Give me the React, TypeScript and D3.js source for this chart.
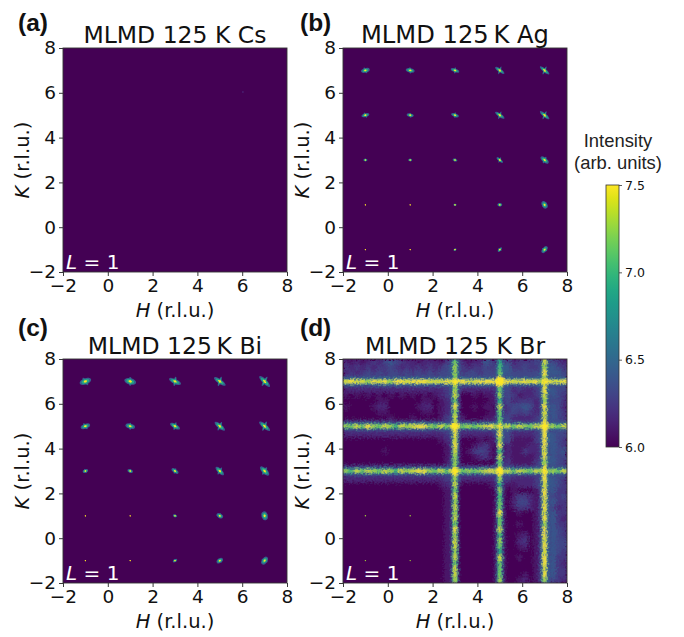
import React, { useEffect, useRef } from 'react';
import * as d3 from 'd3';

const axisTicks = [-2, 0, 2, 4, 6, 8];
const peakH = [-1, 1, 3, 5, 7];
const peakK = [7, 5, 3, 1, -1];
const barTicks = [6, 6.5, 7, 7.5];

// peak half sizes in r.l.u., rows follow peakK, columns follow peakH
const agLong = [
  [0.2, 0.2, 0.2, 0.25, 0.27],
  [0.18, 0.16, 0.18, 0.25, 0.27],
  [0.09, 0.09, 0.11, 0.18, 0.22],
  [0.03, 0.03, 0.07, 0.11, 0.18],
  [0.035, 0.035, 0.07, 0.13, 0.18],
];
const agShort = [
  [0.1, 0.1, 0.08, 0.08, 0.08],
  [0.08, 0.08, 0.08, 0.08, 0.08],
  [0.06, 0.06, 0.06, 0.06, 0.1],
  [0.03, 0.03, 0.05, 0.08, 0.12],
  [0.03, 0.03, 0.05, 0.06, 0.1],
];
const agAngle = [
  [-15, 10, 20, 35, 40],
  [-15, 10, 20, 35, 40],
  [0, 0, 20, 40, 40],
  [0, 0, 0, 0, 60],
  [0, 0, -30, -50, -50],
];
const biLong = [
  [0.27, 0.27, 0.29, 0.31, 0.33],
  [0.22, 0.22, 0.25, 0.29, 0.31],
  [0.13, 0.13, 0.18, 0.25, 0.27],
  [0.03, 0.03, 0.1, 0.16, 0.2],
  [0.03, 0.03, 0.11, 0.16, 0.2],
];
const biShort = [
  [0.14, 0.14, 0.11, 0.1, 0.1],
  [0.11, 0.11, 0.1, 0.1, 0.1],
  [0.08, 0.08, 0.08, 0.1, 0.12],
  [0.03, 0.03, 0.06, 0.1, 0.14],
  [0.03, 0.03, 0.06, 0.1, 0.12],
];
const biAngle = [
  [-20, 15, 25, 35, 45],
  [-20, 15, 30, 40, 40],
  [-20, 20, 35, 45, 45],
  [0, 0, 20, 30, 75],
  [0, 0, -30, -35, -55],
];

// Br: tiny Bragg spots left over in the dark corner, and the faint Cs feature
const brSpotH = [-1, 1, -1, 1];
const brSpotK = [1, 1, -1, -1];
const csSpotH = [6.03];
const csSpotK = [6.04];

// Br diffuse background, 0.25 r.l.u. cells, K from 8 down, H from -2 across. Digit d = 6 + 0.08 d
const brCells = [
  '2121232454322122213442122542442333434432',
  '3232323343232323234543233434653343345543',
  '2323434344343434344553443444554444455554',
  '4444444444444444444544444444544444454444',
  '4444444444444444444544444444544444454444',
  '2222222222222222223442222223442322345544',
  '1010101010101010123420010112343122344543',
  '0000001100000011012320000012342333234443',
  '1000012200000122012320010110234454234542',
  '0000001100000011012320000011234343234543',
  '0000000010001000013421000112342222344543',
  '3333333333333333334443333334443333344444',
  '3333333333333333334443333334443333344444',
  '2222222222222222223432222223442222345544',
  '0000000000000000012320001012341111345543',
  '0000000000000000001220012310121112234543',
  '0000000100000000001220134310121132234545',
  '0000000000000000001220012310121111234544',
  '0000000000000000001320000001231111345543',
  '3333333333333333334443333334443333344444',
  '3333333333333333334443333334443333344444',
  '2222222222222222223332222223332222345543',
  '0000000000000000012210000012211222345543',
  '0000000000000000001100000001101000134533',
  '0000000000000000001100000001101332134434',
  '0000000000000000001100000001102442134533',
  '0000000000000000001100000001101332134423',
  '0000000000000000001100000001100100134533',
  '0000000000000000001100000001100000134532',
  '0000000000000000001100000001100100134533',
  '0000000000000000001100000001100000134543',
  '0000000000000000001100000001100120134543',
  '0000000000000000001100000001100230134544',
  '0000000000000000001100000001100120134544',
  '0000000000000000001100000001100000134543',
  '0000000000000000001100000001100100134533',
  '0000000000000000001100000001100000134532',
  '0000000000000000001100000001100000134533',
  '0000000000000000001100000001100010134533',
  '0000000000000000001100000001100120134432',
];

// Br diffuse rods, brightness per 0.25 r.l.u. along the rod (0-9)
const rodKValues = [7, 5, 3];
const rodHValues = [3, 5, 7];
const rodK = [
  '8988798979989998889899889999998898979889',
  '7686976875878997686876767897686876876768',
  '7586876875878997686876767897686876876768',
];
const rodH = [
  '6776878697879989877697868787869788786887',
  '4564667486668979586787475669668576486667',
  '8797898798899999897999899898979989899897',
];
const crossH = [3, 5, 7, 3, 5, 7, 3, 5, 7];
const crossK = [7, 7, 7, 5, 5, 5, 3, 3, 3];
const crossSize = [0.13, 0.22, 0.13, 0.18, 0.11, 0.18, 0.16, 0.18, 0.13];

const panelSize = 224;
const viridis = d3.scaleSequential(d3.interpolateViridis).domain([6, 7.5]).clamp(true);

const drawPeaks = (g: any, x: any, y: any, long: number[][], short: number[][], angle: number[][]) => {
  const unit = x(1) - x(0);
  const cells: any[] = [];
  peakK.forEach((k, r) => peakH.forEach((h, c) => cells.push({ h, k, long: long[r][c], short: short[r][c], angle: angle[r][c] })));
  const layer = (level: number, grow: number, minR: number) => {
    const shown = cells.filter((d) => level > 7.2 || d.long > 0.05);
    // main arm of the peak
    g.append('g')
      .selectAll('ellipse')
      .data(shown)
      .enter()
      .append('ellipse')
      .attr('rx', (d: any) => Math.max(minR, d.long * unit * grow))
      .attr('ry', (d: any) => Math.max(minR, d.short * unit * grow))
      .attr('transform', (d: any) => `translate(${x(d.h)},${y(d.k)}) rotate(${d.angle})`)
      .attr('fill', viridis(level));
    // shorter cross arm, gives the X look
    g.append('g')
      .selectAll('ellipse')
      .data(shown)
      .enter()
      .append('ellipse')
      .attr('rx', (d: any) => Math.max(minR, d.long * unit * grow * 0.72))
      .attr('ry', (d: any) => Math.max(minR, d.short * unit * grow * 0.5))
      .attr('transform', (d: any) => `translate(${x(d.h)},${y(d.k)}) rotate(${d.angle + 75})`)
      .attr('fill', viridis(level));
  };
  layer(6.45, 1, 0.5);
  layer(6.9, 0.66, 0.5);
  layer(7.5, 0.3, 0.6);
};

const drawBrCells = (g: any, x: any, y: any) => {
  const cellH = 0.25;
  brCells.forEach((row, r) => {
    g.append('g')
      .selectAll('rect')
      .data(row.split(''))
      .enter()
      .append('rect')
      .attr('x', (_: any, c: number) => x(-2 + c * cellH))
      .attr('y', y(8 - r * cellH))
      .attr('width', x(cellH) - x(0) + 0.5)
      .attr('height', x(cellH) - x(0) + 0.5)
      .attr('fill', (d: string) => viridis(6 + +d * 0.08));
  });
};

const drawBrRods = (g: any, x: any, y: any) => {
  const cellH = 0.25;
  const unit = x(1) - x(0);
  const rods = [
    ...rodK.map((levels, i) => ({ levels, pos: rodKValues[i], horizontal: true })),
    ...rodH.map((levels, i) => ({ levels, pos: rodHValues[i], horizontal: false })),
  ];
  const drawRodLayer = (size: (d: number) => number, color: (d: number) => string) => {
    rods.forEach((rod) => {
      g.append('g')
        .selectAll('ellipse')
        .data(rod.levels.split('').map(Number))
        .enter()
        .append('ellipse')
        .attr('cx', (_: any, i: number) => (rod.horizontal ? x(-2 + (i + 0.5) * cellH) : x(rod.pos)))
        .attr('cy', (_: any, i: number) => (rod.horizontal ? y(rod.pos) : y(8 - (i + 0.5) * cellH)))
        .attr('rx', (d: number) => (rod.horizontal ? 3.6 : size(d)))
        .attr('ry', (d: number) => (rod.horizontal ? size(d) : 3.6))
        .attr('fill', (d: number) => color(d));
    });
  };
  drawRodLayer((d) => 2.6 + d * 0.22, () => viridis(6.42));
  drawRodLayer((d) => 1.3 + d * 0.2, () => viridis(6.75));
  drawRodLayer((d) => 0.4 + d * 0.15, (d) => viridis(6.55 + d * 0.11));

  g.append('g')
    .selectAll('circle')
    .data(crossH.map((h, i) => ({ h, k: crossK[i], s: crossSize[i] })))
    .enter()
    .append('circle')
    .attr('cx', (d: any) => x(d.h))
    .attr('cy', (d: any) => y(d.k))
    .attr('r', (d: any) => d.s * unit)
    .attr('fill', viridis(7.5));
};

const drawSpots = (g: any, x: any, y: any, hs: number[], ks: number[], level: number, r: number) => {
  g.append('g')
    .selectAll('circle')
    .data(hs.map((h, i) => ({ h, k: ks[i] })))
    .enter()
    .append('circle')
    .attr('cx', (d: any) => x(d.h))
    .attr('cy', (d: any) => y(d.k))
    .attr('r', r)
    .attr('fill', viridis(level));
};

const panels = [
  { id: 'a', title: 'MLMD 125 K Cs', titleSize: 23.5, left: 63, top: 48, labelX: 18, labelY: 31 },
  { id: 'b', title: 'MLMD 125\u2009K Ag', titleSize: 24.2, left: 343, top: 48, labelX: 300, labelY: 31 },
  { id: 'c', title: 'MLMD 125\u2009K Bi', titleSize: 23.5, left: 63, top: 359, labelX: 18, labelY: 336 },
  { id: 'd', title: 'MLMD 125 K Br', titleSize: 23.5, left: 343, top: 359, labelX: 300, labelY: 336 },
];

const addGrain = (defs: any, id: string, blur: number, scale: number, seed: number) => {
  // blur the shapes, then shuffle neighbouring pixels for the pixelated look of the map
  const f = defs.append('filter').attr('id', id).attr('x', '0').attr('y', '0').attr('width', '100%').attr('height', '100%');
  f.append('feGaussianBlur').attr('in', 'SourceGraphic').attr('stdDeviation', blur).attr('result', 'b');
  f.append('feTurbulence').attr('type', 'fractalNoise').attr('baseFrequency', 0.55).attr('numOctaves', 1).attr('seed', seed).attr('result', 'n');
  f.append('feDisplacementMap').attr('in', 'b').attr('in2', 'n').attr('scale', scale).attr('xChannelSelector', 'R').attr('yChannelSelector', 'G');
};

const App = () => {
  const svgRef = useRef<SVGSVGElement>(null);

  useEffect(() => {
    const svg = d3.select(svgRef.current);
    svg.selectAll('*').remove();
    const defs = svg.append('defs');

    const soft = defs.append('filter').attr('id', 'soft').attr('x', '-5%').attr('y', '-5%').attr('width', '110%').attr('height', '110%');
    soft.append('feGaussianBlur').attr('stdDeviation', 0.35);
    addGrain(defs, 'grainCells', 1.5, 10, 4);
    addGrain(defs, 'grainRods', 1, 5, 9);

    panels.forEach((p) => {
      const x = d3.scaleLinear().domain([-2, 8]).range([p.left, p.left + panelSize]);
      const y = d3.scaleLinear().domain([-2, 8]).range([p.top + panelSize, p.top]);

      defs.append('clipPath').attr('id', `clip-${p.id}`)
        .append('rect').attr('x', p.left).attr('y', p.top).attr('width', panelSize).attr('height', panelSize);

      const root = svg.append('g').attr('clip-path', `url(#clip-${p.id})`);
      root.append('rect').attr('x', p.left).attr('y', p.top).attr('width', panelSize).attr('height', panelSize).attr('fill', viridis(6));

      if (p.id === 'a') {
        drawSpots(root, x, y, csSpotH, csSpotK, 6.12, 1);
      }
      if (p.id === 'b') {
        drawPeaks(root.append('g').attr('filter', 'url(#soft)'), x, y, agLong, agShort, agAngle);
      }
      if (p.id === 'c') {
        drawPeaks(root.append('g').attr('filter', 'url(#soft)'), x, y, biLong, biShort, biAngle);
      }
      if (p.id === 'd') {
        drawBrCells(root.append('g').attr('filter', 'url(#grainCells)'), x, y);
        drawBrRods(root.append('g').attr('filter', 'url(#grainRods)'), x, y);
        drawSpots(root, x, y, brSpotH, brSpotK, 7.3, 0.7);
      }

      const xAxis = svg.append('g').attr('transform', `translate(0,${p.top + panelSize})`)
        .call(d3.axisBottom(x).tickValues(axisTicks).tickFormat((d: any) => d3.format('d')(d).replace('-', '\u2212')).tickSize(4).tickPadding(3));
      const yAxis = svg.append('g').attr('transform', `translate(${p.left},0)`)
        .call(d3.axisLeft(y).tickValues(axisTicks).tickFormat((d: any) => d3.format('d')(d).replace('-', '\u2212')).tickSize(4).tickPadding(3));
      [xAxis, yAxis].forEach((a) => {
        a.selectAll('text').attr('font-family', 'DejaVu Sans').attr('font-size', 18.5).attr('fill', '#111');
        a.selectAll('line').attr('stroke', '#222').attr('stroke-width', 0.9);
        a.select('.domain').remove();
      });

      svg.append('rect').attr('x', p.left).attr('y', p.top).attr('width', panelSize).attr('height', panelSize)
        .attr('fill', 'none').attr('stroke', '#333').attr('stroke-width', 0.9);

      svg.append('text').attr('x', p.left + panelSize / 2).attr('y', p.top - 5)
        .attr('text-anchor', 'middle').attr('font-family', 'DejaVu Sans').attr('font-size', p.titleSize).attr('fill', '#111').text(p.title);

      const xLabel = svg.append('text').attr('x', p.left + panelSize / 2).attr('y', p.top + panelSize + 45)
        .attr('text-anchor', 'middle').attr('font-family', 'DejaVu Sans').attr('font-size', 19.5).attr('fill', '#111');
      xLabel.append('tspan').attr('font-style', 'italic').text('H');
      xLabel.append('tspan').text(' (r.l.u.)');

      const yLabel = svg.append('text').attr('transform', `translate(${p.left - 34},${p.top + panelSize / 2}) rotate(-90)`)
        .attr('text-anchor', 'middle').attr('font-family', 'DejaVu Sans').attr('font-size', 19.5).attr('fill', '#111');
      yLabel.append('tspan').attr('font-style', 'italic').text('K');
      yLabel.append('tspan').text(' (r.l.u.)');

      const lLabel = svg.append('text').attr('x', p.left + 3).attr('y', p.top + panelSize - 3)
        .attr('font-family', 'DejaVu Sans').attr('font-size', 20).attr('fill', '#fff');
      lLabel.append('tspan').attr('font-style', 'italic').text('L');
      lLabel.append('tspan').text(' = 1');

      svg.append('text').attr('x', p.labelX).attr('y', p.labelY)
        .attr('font-family', 'Liberation Sans').attr('font-weight', 'bold').attr('font-size', 24.5).attr('fill', '#111').text(`(${p.id})`);
    });

    // colour bar
    const barY = d3.scaleLinear().domain([6, 7.5]).range([447, 185]);
    const grad = defs.append('linearGradient').attr('id', 'bar').attr('x1', 0).attr('x2', 0).attr('y1', 1).attr('y2', 0);
    d3.range(0, 1.001, 0.05).forEach((t) => {
      grad.append('stop').attr('offset', t).attr('stop-color', d3.interpolateViridis(t));
    });
    svg.append('rect').attr('x', 606).attr('y', 185).attr('width', 13).attr('height', 262)
      .attr('fill', 'url(#bar)').attr('stroke', '#333').attr('stroke-width', 0.8);
    const barAxis = svg.append('g').attr('transform', 'translate(619,0)')
      .call(d3.axisRight(barY).tickValues(barTicks).tickFormat(d3.format('.1f') as any).tickSize(3).tickPadding(3));
    barAxis.select('.domain').remove();
    barAxis.selectAll('text').attr('font-family', 'DejaVu Sans').attr('font-size', 12.5).attr('fill', '#111');
    barAxis.selectAll('line').attr('stroke', '#333').attr('stroke-width', 0.8);

    ['Intensity', '(arb. units)'].forEach((t, i) => {
      svg.append('text').attr('x', 618).attr('y', 147 + i * 22).attr('text-anchor', 'middle')
        .attr('font-family', 'Liberation Sans').attr('font-size', 18.4).attr('fill', '#222').text(t);
    });
  }, []);

  return <svg ref={svgRef} width={684} height={637} style={{ position: 'absolute', left: 0, top: 0, display: 'block' }} />;
};

export default App;
